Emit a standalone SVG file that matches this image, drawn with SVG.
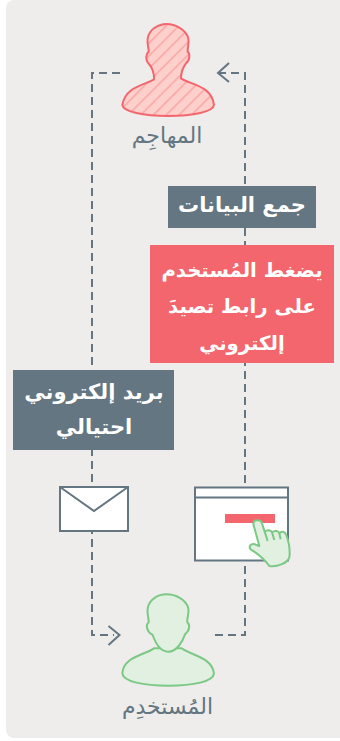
<svg xmlns="http://www.w3.org/2000/svg" width="340" height="741" viewBox="0 0 340 741">
<style>
.t{font-family:"DejaVu Sans",sans-serif;font-weight:700;font-size:19.700px;fill:#fff;text-anchor:middle;direction:rtl;dominant-baseline:middle}
.b{font-size:21px}
.l{font-family:"DejaVu Sans",sans-serif;font-size:22px;fill:#637681;text-anchor:middle;direction:rtl}
.d{fill:none;stroke:#637681;stroke-width:2;stroke-dasharray:8 5}
.a{fill:none;stroke:#637681;stroke-width:2}
.z{stroke-width:6;stroke-linejoin:round}
.g{fill:#e2f0e1;stroke:#7bc985}
</style>
<defs><pattern id="h" width="9" height="9" patternUnits="userSpaceOnUse" patternTransform="rotate(45)"><rect width="9" height="9" fill="#fdd0cb"/><rect width="1.500" height="9" fill="#f9a5a3"/></pattern></defs>
<rect x="6" y="0" width="350" height="738" rx="8" fill="#eeedec"/>
<g id="connectors">
<path class="d" d="M120 73H92V635H114"/><path class="a" d="M108.500 626L119.500 635L108.500 645"/>
<path class="d" d="M218 73H245V635H215"/><path class="a" d="M229 63L218 73L229 82"/>
</g>
<g id="attacker"><path d="M167 24C175 24 185 29 188 38C189 43 187 49 188 52C190 54 190 60 186 63C184 66 181 72 181 78C190 85 212 87 214 105C213 111 193 116 168 116C143 116 123 111 122 105C125 87 145 85 154 79C155 73 152 66 148 63C145 60 145 54 149 52C149 48 147 43 148 38C149 29 159 24 167 24Z" fill="url(#h)"/><path transform="translate(80 10) scale(.3333)" class="z" d="M260 42C285 42 318 58 325 85C328 100 322 115 323 125C330 130 331 150 318 160C312 168 303 185 303 205C330 225 395 225 402 285C400 305 340 318 265 318C190 318 130 305 127 285C135 230 195 225 222 208C224 190 215 170 205 160C196 150 197 132 206 125C207 115 200 100 203 85C208 58 235 42 260 42Z" fill="none" stroke="#f4666d"/><text class="l" x="167" y="143">المهاجِم</text></g>
<g id="collect"><rect x="168" y="186" width="148" height="42" fill="#637681"/><text class="t b" x="242" y="206">جمع البيانات</text></g>
<g id="click"><rect x="150" y="245" width="184" height="118" fill="#f4666d"/><text class="t" x="242" y="271">يضغط المُستخدم</text><text class="t" x="242" y="307">على رابط تصيدَ</text><text class="t" x="242" y="344">إلكتروني</text></g>
<g id="phish"><rect x="13" y="370" width="161" height="80" fill="#637681"/><text class="t b" x="94" y="393">بريد إلكتروني</text><text class="t b" x="94" y="428">احتيالي</text></g>
<g id="envelope"><rect x="60" y="487" width="68" height="44" fill="#fff" stroke="#637681" stroke-width="2"/><path d="M60 487L94 511L128 487" fill="none" stroke="#637681" stroke-width="2"/></g>
<g id="window"><rect x="195" y="487.500" width="93" height="73" fill="#fff" stroke="#637681" stroke-width="2"/><path d="M195 497.500H288" stroke="#637681" stroke-width="2"/><rect x="225" y="514" width="50" height="9" fill="#f4666d"/>
<g transform="translate(180 480) scale(.3333)"><path class="g z" d="M220 132C220 118 243 116 246 130L254 155C262 148 272 150 276 157C284 150 296 152 298 160C306 152 316 155 319 165C326 185 332 205 328 232C322 250 290 262 268 258C255 240 235 222 212 208C205 200 212 190 225 193L238 198Z"/><path class="g z" style="fill:none" d="M254 155L263 183M276 157L283 180M298 160L302 178"/></g></g>
<g id="user"><g transform="translate(80 585) scale(.3333)"><path class="g z" d="M222 190C195 210 130 215 127 265C130 290 190 302 265 302C340 302 400 290 402 265C395 215 330 210 305 190Z"/><path class="g z" d="M260 28C285 28 318 42 325 70C328 85 320 100 322 112C330 118 331 135 315 148C308 170 290 200 265 200C240 200 225 170 218 150C200 140 196 120 206 112C207 100 200 85 203 70C208 42 235 28 260 28Z"/></g><text class="l" x="167.500" y="714">المُستخدِم</text></g>
</svg>
